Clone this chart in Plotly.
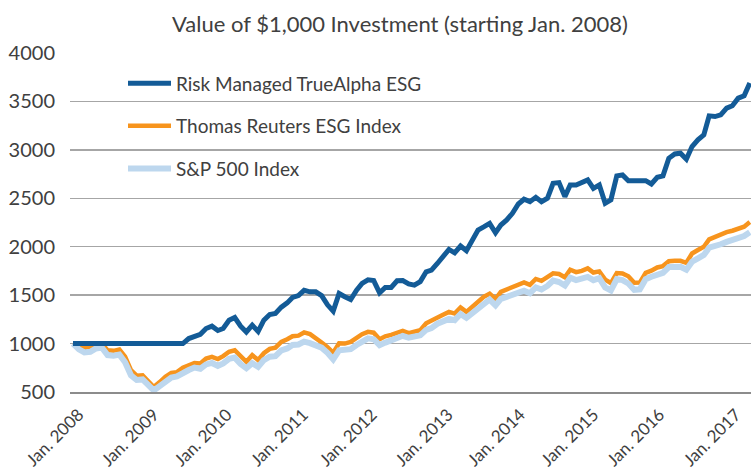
import plotly.graph_objects as go
import pandas as pd

# ---- data ----
months = pd.date_range("2008-01-01", periods=118, freq="MS").strftime("%Y-%m-%d").tolist()

risk_managed = [
    1000, 1000, 1000, 1000, 1000, 1000, 1000, 1000, 1000, 1000,
    1000, 1000, 1000, 1000, 1000, 1000, 1000, 1000, 1000, 1000,
    1052, 1070, 1095, 1155, 1180, 1135, 1156, 1241, 1269, 1180,
    1120, 1190, 1125, 1241, 1300, 1310, 1376, 1420, 1476, 1495,
    1550, 1534, 1534, 1495, 1400, 1335, 1517, 1483, 1455, 1552,
    1621, 1658, 1650, 1524, 1580, 1580, 1648, 1650, 1615, 1603,
    1640, 1741, 1758, 1827, 1896, 1972, 1937, 2007, 1958, 2069,
    2172, 2205, 2241, 2144, 2224, 2276, 2345, 2441, 2490, 2465,
    2510, 2465, 2500, 2655, 2662, 2517, 2638, 2638, 2662, 2690,
    2603, 2638, 2448, 2483, 2731, 2741, 2680, 2682, 2682, 2682,
    2648, 2717, 2731, 2914, 2958, 2965, 2903, 3034, 3103, 3155,
    3351, 3344, 3362, 3431, 3455, 3534, 3558, 3690,
]

tr_esg = [
    1000, 962, 955, 968, 998, 1000, 930, 925, 938, 865,
    725, 668, 672, 615, 552, 603, 658, 696, 705, 750,
    778, 800, 795, 845, 862, 840, 870, 915, 931, 868,
    812, 880, 830, 900, 945, 958, 1017, 1045, 1076, 1082,
    1115, 1098, 1062, 1012, 962, 905, 1003, 1000, 1017, 1062,
    1097, 1121, 1112, 1045, 1075, 1090, 1115, 1130, 1108, 1121,
    1138, 1210, 1234, 1272, 1298, 1327, 1310, 1372, 1327, 1378,
    1432, 1482, 1515, 1460, 1534, 1560, 1575, 1606, 1632, 1606,
    1667, 1648, 1683, 1725, 1718, 1684, 1762, 1738, 1751, 1776,
    1733, 1745, 1660, 1625, 1728, 1724, 1695, 1628, 1630, 1731,
    1752, 1786, 1800, 1850, 1855, 1855, 1834, 1930, 1966, 2000,
    2075, 2103, 2125, 2150, 2165, 2190, 2207, 2255,
]

sp500 = [
    1000, 940, 909, 915, 950, 958, 881, 874, 886, 807,
    672, 624, 630, 572, 516, 561, 614, 650, 660, 702,
    727, 752, 740, 785, 800, 770, 795, 842, 855, 788,
    746, 798, 760, 830, 865, 870, 930, 950, 985, 990,
    1020, 1005, 985, 958, 905, 837, 930, 930, 942, 985,
    1022, 1054, 1045, 984, 1010, 1030, 1058, 1080, 1060, 1070,
    1085, 1142, 1160, 1205, 1230, 1255, 1242, 1305, 1265, 1315,
    1370, 1420, 1455, 1395, 1462, 1483, 1500, 1530, 1545, 1520,
    1580, 1558, 1595, 1650, 1636, 1600, 1680, 1655, 1668, 1688,
    1655, 1675, 1580, 1548, 1665, 1655, 1620, 1555, 1560, 1665,
    1690, 1715, 1730, 1790, 1795, 1793, 1762, 1845, 1880, 1915,
    1990, 2000, 2025, 2050, 2068, 2095, 2110, 2150,
]

tick_labels = ["Jan. %d" % y for y in range(2008, 2018)]
# label anchor positions along the axis, in months after the first point
tick_offsets = [1.0, 14.0, 26.6, 39.8, 51.7, 64.8, 77.3, 90.0, 101.4, 114.6]

y_ticks = [500, 1000, 1500, 2000, 2500, 3000, 3500, 4000]

start = pd.Timestamp(months[0])
MONTH_DAYS = 30.436875
tick_dates = [(start + pd.Timedelta(days=MONTH_DAYS * m)).strftime("%Y-%m-%d %H:%M")
              for m in tick_offsets]
x_range = [(start + pd.Timedelta(days=MONTH_DAYS * m)).strftime("%Y-%m-%d %H:%M")
           for m in (-0.52, 117.2)]

TEXT = "#404040"
FONT = "Lato"

fig = go.Figure()
fig.add_trace(go.Scatter(
    x=months, y=tr_esg, mode="lines", name="Thomas Reuters ESG Index",
    line=dict(color="#F7941D", width=4.5), legendrank=2, legendgroup="b",
))
fig.add_trace(go.Scatter(
    x=months, y=sp500, mode="lines", name="S&P 500 Index",
    line=dict(color="#BDD7EE", width=6), legendrank=3, legendgroup="c",
))
fig.add_trace(go.Scatter(
    x=months, y=risk_managed, mode="lines", name="Risk Managed TrueAlpha ESG",
    line=dict(color="#135B97", width=5), legendrank=1, legendgroup="a",
))

W, H = 751, 473
T, B, L = 53, 81, 70
PH = H - T - B
fig.update_layout(
    width=W, height=H,
    margin=dict(l=L, r=0, t=T, b=B),
    paper_bgcolor="white", plot_bgcolor="white",
    font=dict(family=FONT, color=TEXT, size=19),
    title=dict(
        text="Value of $1,000 Investment (starting Jan. 2008)",
        x=400 / W, xref="container", xanchor="center",
        y=1 - 24 / H, yref="container", yanchor="middle",
        font=dict(family=FONT, size=22, color=TEXT),
    ),
    showlegend=True,
    legend=dict(
        x=(123 - L) / (W - L), y=1 - 11.3 / PH, xanchor="left", yanchor="top",
        bgcolor="rgba(0,0,0,0)", font=dict(size=19, color=TEXT),
        tracegroupgap=15, itemwidth=43, traceorder="grouped",
    ),
    xaxis=dict(
        type="date",
        range=x_range,
        tickvals=tick_dates, ticktext=tick_labels,
        tickangle=-45, tickfont=dict(size=17, color=TEXT),
        showgrid=False, zeroline=False,
        showline=True, linecolor="#8C8C8C", linewidth=2,
        ticks="outside", ticklen=4, tickcolor="rgba(0,0,0,0)",
        fixedrange=True, automargin=False,
    ),
    yaxis=dict(
        range=[500, 4000], tickvals=y_ticks,
        tickfont=dict(size=20, color=TEXT),
        showgrid=True, gridcolor="#A6A6A6", gridwidth=1.5,
        zeroline=False, showline=False,
        ticks="outside", ticklen=10, tickcolor="rgba(0,0,0,0)",
        automargin=False, fixedrange=True,
    ),
)

fig.write_html(
    "out.html",
    config={"displayModeBar": False, "staticPlot": True},
    post_script="document.body.style.margin='0';document.body.style.overflow='hidden';",
)
